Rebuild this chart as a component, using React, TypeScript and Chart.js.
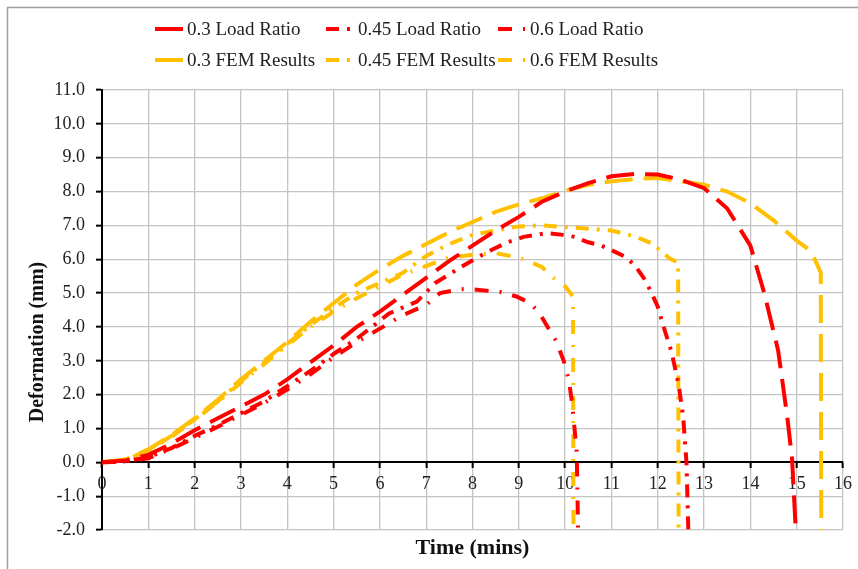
import { useEffect, useRef } from "react";
import { Chart, registerables } from "chart.js";

Chart.register(...registerables);

// ---------- data ----------
const seriesLabels = [
  "0.3 Load Ratio",
  "0.45 Load Ratio",
  "0.6 Load Ratio",
  "0.3 FEM Results",
  "0.45 FEM Results",
  "0.6 FEM Results",
];

const t03Load = [0, 0.5, 1, 1.5, 2, 2.5, 3, 3.5, 4, 4.5, 5, 5.5, 6, 6.5, 7, 7.5, 8, 8.5, 9, 9.5, 10, 10.5, 11, 11.5, 12, 12.5, 13, 13.5, 14, 14.3, 14.6, 14.8, 14.9, 14.98];
const d03Load = [0, 0.05, 0.22, 0.55, 0.95, 1.3, 1.65, 2.0, 2.45, 2.95, 3.45, 4.0, 4.45, 4.95, 5.45, 5.95, 6.4, 6.85, 7.25, 7.7, 8.0, 8.25, 8.45, 8.52, 8.5, 8.35, 8.1, 7.5, 6.4, 5.0, 3.3, 1.3, 0.1, -2];

const t045Load = [0, 0.5, 1, 1.5, 2, 2.5, 3, 3.5, 4, 4.5, 5, 5.5, 6.2, 6.8, 7.2, 7.75, 8.3, 8.75, 9.1, 9.6, 9.95, 10.2, 10.5, 10.75, 11, 11.3, 11.5, 11.7, 11.85, 12, 12.15, 12.3, 12.45, 12.55, 12.62, 12.66];
const d045Load = [0, 0.03, 0.15, 0.42, 0.78, 1.1, 1.45, 1.8, 2.25, 2.7, 3.2, 3.65, 4.4, 4.75, 5.3, 5.77, 6.2, 6.5, 6.66, 6.77, 6.72, 6.66, 6.5, 6.42, 6.27, 6.07, 5.83, 5.44, 5.05, 4.6, 3.9, 3.25, 2.3, 1.33, 0, -2];

const t06Load = [0, 0.5, 1, 1.5, 2, 2.5, 3, 3.5, 4, 4.5, 5, 5.5, 6, 6.5, 7, 7.3, 7.75, 8.1, 8.6, 8.95, 9.25, 9.45, 9.6, 9.8, 9.97, 10.08, 10.15, 10.2, 10.25, 10.28];
const d06Load = [0, 0.02, 0.12, 0.4, 0.72, 1.05, 1.4, 1.75, 2.15, 2.6, 3.1, 3.55, 3.95, 4.35, 4.65, 5.0, 5.12, 5.1, 5.03, 4.9, 4.7, 4.4, 4.05, 3.6, 3.0, 2.43, 1.75, 1.04, 0.3, -2];

const t03Fem = [0, 0.5, 1, 1.5, 2, 2.5, 3, 3.5, 4, 4.5, 5, 5.5, 6, 6.5, 7, 7.5, 8, 8.5, 9, 9.5, 10, 10.5, 11, 11.5, 12, 12.5, 13, 13.5, 14, 14.5, 15, 15.25, 15.4, 15.52, 15.53];
const d03Fem = [0, 0.08, 0.38, 0.8, 1.3, 1.85, 2.45, 3.0, 3.55, 4.15, 4.7, 5.25, 5.7, 6.1, 6.45, 6.8, 7.1, 7.4, 7.62, 7.8, 8.02, 8.2, 8.3, 8.37, 8.4, 8.3, 8.2, 8.0, 7.65, 7.15, 6.55, 6.3, 5.97, 5.6, -2];

const t045Fem = [0, 0.5, 1, 1.5, 2, 2.5, 3, 3.5, 4, 4.5, 5, 5.5, 6, 6.5, 7, 7.5, 8, 8.5, 9, 9.5, 10, 10.5, 11, 11.5, 11.85, 12.05, 12.25, 12.44, 12.45];
const d045Fem = [0, 0.07, 0.36, 0.78, 1.27, 1.8, 2.4, 2.95, 3.5, 4.05, 4.55, 5.0, 5.3, 5.6, 6.1, 6.45, 6.72, 6.85, 6.97, 7.0, 6.95, 6.9, 6.85, 6.68, 6.48, 6.27, 6.03, 5.9, -2];

const t06Fem = [0, 0.5, 1, 1.5, 2, 2.5, 3, 3.5, 4, 4.5, 5, 5.5, 6, 6.5, 7, 7.5, 8, 8.5, 9, 9.5, 9.75, 10, 10.17, 10.18];
const d06Fem = [0, 0.06, 0.34, 0.75, 1.25, 1.78, 2.35, 2.9, 3.45, 4.0, 4.45, 4.85, 5.2, 5.55, 5.8, 6.05, 6.13, 6.18, 6.05, 5.77, 5.45, 5.2, 4.9, -2];

const seriesTimes = [t03Load, t045Load, t06Load, t03Fem, t045Fem, t06Fem];
const seriesValues = [d03Load, d045Load, d06Load, d03Fem, d045Fem, d06Fem];

const xMin = 0;
const xMax = 16;
const yMin = -2;
const yMax = 11;

const xTitle = "Time (mins)";
const yTitle = "Deformation (mm)";

// ---------- styles ----------
const RED = "#FF0000";
const ORANGE = "#FFC000";
const seriesColors = [RED, RED, RED, ORANGE, ORANGE, ORANGE];
const seriesDashes = [
  [28, 11],
  [13, 8, 3, 8],
  [14, 11, 2, 11],
  [28, 11],
  [13, 8, 3, 8],
  [14, 11, 2, 11],
];

const FONT = "'Liberation Serif', 'Times New Roman', serif";
const GRID = "#c4c4c4";

const decorPlugin = {
  id: "decor",
  afterDraw(chart: any) {
    const ctx = chart.ctx as CanvasRenderingContext2D;
    const area = chart.chartArea;
    ctx.save();
    // outer frame
    ctx.strokeStyle = "#a0a0a0";
    ctx.lineWidth = 1.5;
    ctx.beginPath();
    ctx.moveTo(7.5, 569);
    ctx.lineTo(7.5, 7.5);
    ctx.lineTo(858, 7.5);
    ctx.stroke();

    // legend (3 columns x 2 rows)
    const cols = [155, 326, 498];
    const rows = [29, 60];
    chart.data.datasets.forEach((ds: any, i: number) => {
      const x = cols[i % 3];
      const y = rows[Math.floor(i / 3)];
      ctx.setLineDash(ds.borderDash || []);
      ctx.strokeStyle = ds.borderColor;
      ctx.lineWidth = 4;
      ctx.beginPath();
      ctx.moveTo(x, y);
      ctx.lineTo(x + 28, y);
      ctx.stroke();
      ctx.setLineDash([]);
      ctx.fillStyle = "#222";
      ctx.font = `19px ${FONT}`;
      ctx.textAlign = "left";
      ctx.textBaseline = "middle";
      ctx.fillText(ds.label, x + 32, y + 1);
    });

    // axis titles
    ctx.fillStyle = "#111";
    ctx.textAlign = "center";
    ctx.textBaseline = "middle";
    ctx.font = `bold 22px ${FONT}`;
    ctx.fillText(xTitle, (area.left + area.right) / 2, 548);
    ctx.font = `bold 20px ${FONT}`;
    ctx.translate(38, 342);
    ctx.rotate(-Math.PI / 2);
    ctx.fillText(yTitle, 0, 0);
    ctx.restore();
  },
};

export default function App() {
  const canvasRef = useRef<HTMLCanvasElement | null>(null);

  useEffect(() => {
    if (!canvasRef.current) return;
    const datasets = seriesLabels.map((label, i) => ({
      label,
      data: seriesTimes[i].map((t, k) => ({ x: t, y: seriesValues[i][k] })),
      borderColor: seriesColors[i],
      backgroundColor: seriesColors[i],
      borderWidth: 4,
      borderDash: seriesDashes[i],
      pointRadius: 0,
      pointHoverRadius: 0,
      tension: 0,
      fill: false,
    }));

    const chart = new Chart(canvasRef.current, {
      type: "line",
      data: { datasets },
      options: {
        animation: false,
        responsive: false,
        maintainAspectRatio: false,
        layout: { padding: { left: 0, top: 90, right: 10, bottom: 39 } },
        plugins: {
          legend: { display: false },
          tooltip: { enabled: false },
          title: { display: false },
        },
        scales: {
          y: {
            type: "linear",
            position: "left",
            min: yMin,
            max: yMax,
            afterFit: (s: any) => {
              s.width = 102;
            },
            ticks: {
              stepSize: 1,
              padding: 11,
              color: "#222",
              font: { family: FONT, size: 18 },
              callback: (v: any) => Number(v).toFixed(1),
            },
            grid: {
              color: (c: any) => (c.tick && c.tick.value === 0 ? "rgba(0,0,0,0)" : GRID),
              lineWidth: 1.3,
              tickLength: 6,
              tickColor: "#000",
              tickWidth: 2,
            },
            border: { color: "#000", width: 2 },
          },
          x: {
            type: "linear",
            position: { y: 0 } as any,
            min: xMin,
            max: xMax,
            ticks: {
              stepSize: 1,
              padding: 6,
              color: "#222",
              autoSkip: false,
              maxRotation: 0,
              font: { family: FONT, size: 18 },
            },
            grid: {
              color: (c: any) => (c.tick && c.tick.value === 0 ? "rgba(0,0,0,0)" : GRID),
              lineWidth: 1.3,
              tickLength: 5,
              tickColor: "#000",
              tickWidth: 2,
            },
            border: { color: "#000", width: 2 },
          },
        },
      } as any,
      plugins: [decorPlugin],
    });
    return () => chart.destroy();
  }, []);

  return (
    <div style={{ position: "fixed", left: 0, top: 0, width: 858, height: 569, background: "#fff" }}>
      <canvas ref={canvasRef} width={858} height={569} style={{ display: "block" }} />
    </div>
  );
}
